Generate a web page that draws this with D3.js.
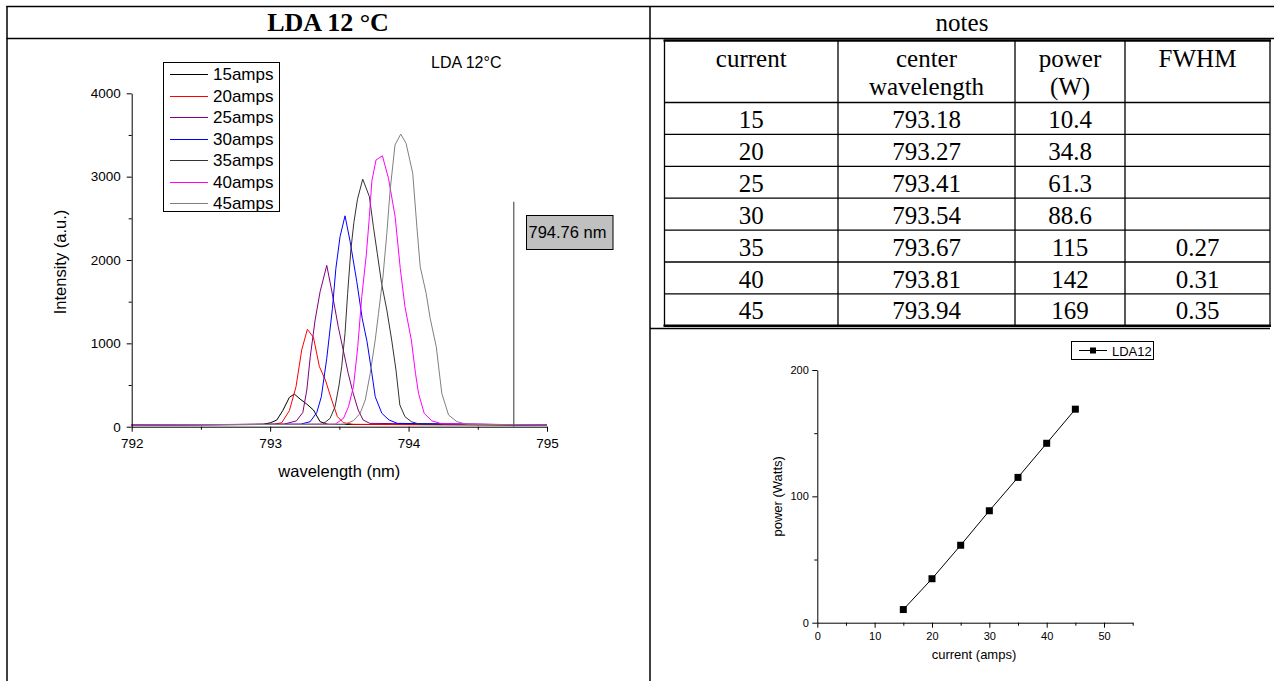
<!DOCTYPE html>
<html>
<head>
<meta charset="utf-8">
<script src="https://cdn.jsdelivr.net/npm/d3@7"></script>
<style>
body { margin: 0; background: #fff; }
svg { display: block; }
</style>
</head>
<body>
<svg id="page" width="1274" height="681"></svg>
<script>
"use strict";

// ---- data ----
var seriesNames = ["15amps", "20amps", "25amps", "30amps", "35amps", "40amps", "45amps"];

// [wavelength nm, intensity a.u.]
var amps15 = [[792, 20], [792.95, 28], [793.004, 48], [793.048, 80], [793.091, 192], [793.139, 352],
    [793.175, 392], [793.216, 332], [793.264, 272], [793.313, 200], [793.361, 60], [793.42, 28], [795, 20]];
var amps20 = [[792, 20], [793.03, 30], [793.084, 48], [793.139, 192], [793.187, 480], [793.228, 920],
    [793.269, 1168], [793.313, 1072], [793.356, 720], [793.399, 560], [793.445, 320], [793.486, 120],
    [793.529, 48], [793.6, 28], [795, 20]];
var amps25 = [[792, 20], [793.1, 30], [793.19, 70], [793.236, 170], [793.265, 440], [793.29, 840],
    [793.325, 1280], [793.361, 1620], [793.409, 1935], [793.444, 1640], [793.492, 1200], [793.528, 920],
    [793.564, 640], [793.6, 400], [793.636, 200], [793.672, 80], [793.72, 40], [795, 20]];
var amps30 = [[792, 20], [793.22, 30], [793.289, 60], [793.337, 170], [793.37, 360], [793.409, 820],
    [793.45, 1420], [793.475, 1900], [793.505, 2280], [793.541, 2530], [793.578, 2220], [793.626, 1740],
    [793.665, 1300], [793.7, 1020], [793.735, 640], [793.759, 360], [793.807, 160], [793.86, 80],
    [793.92, 40], [795, 20]];
var amps35 = [[792, 20], [793.38, 30], [793.433, 100], [793.469, 240], [793.498, 500], [793.517, 720],
    [793.541, 1120], [793.56, 1600], [793.583, 2120], [793.605, 2450], [793.631, 2730], [793.669, 2970],
    [793.717, 2760], [793.746, 2400], [793.774, 2080], [793.805, 1720], [793.843, 1400], [793.878, 1040],
    [793.909, 680], [793.937, 260], [793.974, 120], [794.02, 60], [794.08, 30], [795, 20]];
var amps40 = [[792, 20], [793.47, 30], [793.53, 100], [793.566, 240], [793.602, 480], [793.633, 960],
    [793.662, 1560], [793.694, 2050], [793.717, 2520], [793.735, 2950], [793.765, 3200], [793.811, 3250],
    [793.855, 2980], [793.903, 2520], [793.94, 1900], [793.974, 1440], [794.02, 1040], [794.05, 640],
    [794.072, 400], [794.113, 160], [794.168, 70], [794.24, 35], [795, 20]];
var amps45 = [[792, 20], [793.54, 30], [793.602, 72], [793.65, 160], [793.687, 320], [793.723, 640],
    [793.759, 1040], [793.783, 1360], [793.815, 1800], [793.843, 2320], [793.867, 2840], [793.902, 3380],
    [793.943, 3510], [793.982, 3400], [794.03, 3040], [794.06, 2400], [794.084, 1920], [794.127, 1600],
    [794.156, 1300], [794.2, 960], [794.24, 400], [794.289, 140], [794.349, 60], [794.42, 30], [795, 20]];

var spectra = [amps15, amps20, amps25, amps30, amps35, amps40, amps45];

var wavelengthTicks = [792, 793, 794, 795],
    wavelengthMinor = [792.5, 793.5, 794.5],
    intensityTicks = [0, 1000, 2000, 3000, 4000],
    intensityMinor = [500, 1500, 2500, 3500];

var markerWavelength = 794.76,
    markerTop = 2700,
    markerLabel = "794.76 nm";

// notes table
var tableHeader = [["current"], ["center", "wavelength"], ["power", "(W)"], ["FWHM"]];
var current = [15, 20, 25, 30, 35, 40, 45];
var centerWavelength = ["793.18", "793.27", "793.41", "793.54", "793.67", "793.81", "793.94"];
var powerW = [10.4, 34.8, 61.3, 88.6, 115, 142, 169];
var fwhm = ["", "", "", "", "0.27", "0.31", "0.35"];

var currentTicks = [0, 10, 20, 30, 40, 50],
    currentMinor = [5, 15, 25, 35, 45, 55],
    powerTicks = [0, 100, 200],
    powerMinor = [50, 150];

// ---- styles ----
var seriesColours = ["#000000", "#ff0000", "#800080", "#0000ff", "#333333", "#ff00ff", "#808080"],
    sans = "'Liberation Sans', Arial, sans-serif",
    serif = "'Liberation Serif', 'Times New Roman', serif";

var svg = d3.select("#page");
svg.append("rect").attr("width", 1274).attr("height", 681).attr("fill", "#fff");

var hline = function(x1, x2, y, w) {
    svg.append("line").attr("x1", x1).attr("x2", x2).attr("y1", y).attr("y2", y)
        .attr("stroke", "#000").attr("stroke-width", w);
};
var vline = function(x, y1, y2, w) {
    svg.append("line").attr("x1", x).attr("x2", x).attr("y1", y1).attr("y2", y2)
        .attr("stroke", "#000").attr("stroke-width", w);
};

// ---- outer table ----
hline(6.5, 1274, 6.5, 1.5);
hline(6.5, 1274, 38.5, 1.5);
vline(7, 6, 681, 1.5);
vline(650, 6, 681, 1.5);
hline(650, 1270, 328.5, 1.5);

svg.append("text").attr("x", 328).attr("y", 31).attr("text-anchor", "middle")
    .attr("font-family", serif).attr("font-size", 26).attr("font-weight", "bold")
    .text("LDA 12 \u00B0C");
svg.append("text").attr("x", 962).attr("y", 31).attr("text-anchor", "middle")
    .attr("font-family", serif).attr("font-size", 25)
    .text("notes");

// ---- notes table ----
var colEdges = [664.5, 838, 1015, 1125, 1270],
    headTop = 40.5,
    headBottom = 102.5,
    rowHeight = 31.9;

hline(663.5, 1271, headTop, 2.5);
colEdges.forEach(function(x) { vline(x, headTop, headBottom + rowHeight * current.length, 1.3); });
hline(664, 1270, headBottom, 1.3);
current.forEach(function(c, i) {
    if (i > 0) {
        hline(664, 1270, headBottom + rowHeight * i, 1.3);
    }
});
hline(663.5, 1271, headBottom + rowHeight * current.length, 2.5);

var colMid = function(j) { return (colEdges[j] + colEdges[j + 1]) / 2; };

tableHeader.forEach(function(lines, j) {
    lines.forEach(function(t, k) {
        svg.append("text").attr("x", colMid(j)).attr("y", 67 + k * 28)
            .attr("text-anchor", "middle").attr("font-family", serif).attr("font-size", 25)
            .text(t);
    });
});

current.forEach(function(c, i) {
    var cells = [c, centerWavelength[i], powerW[i], fwhm[i]];
    cells.forEach(function(v, j) {
        svg.append("text").attr("x", colMid(j)).attr("y", headBottom + rowHeight * i + 25.5)
            .attr("text-anchor", "middle").attr("font-family", serif).attr("font-size", 25)
            .text(v);
    });
});

// ---- spectra chart ----
var xSpec = d3.scaleLinear().domain([792, 795]).range([131.7, 547]),
    ySpec = d3.scaleLinear().domain([0, 4000]).range([426.7, 93.3]);

var styleAxis = function(g, size) {
    g.attr("font-family", sans).attr("font-size", size);
    g.selectAll("path, line").attr("stroke", "#000").attr("stroke-width", 1);
    g.selectAll("text").attr("fill", "#000");
};

svg.append("g").attr("transform", "translate(0," + ySpec(0) + ")")
    .call(d3.axisBottom(xSpec).tickValues(wavelengthMinor).tickSize(3).tickFormat(""))
    .call(function(g) { g.select(".domain").remove(); styleAxis(g, 13.5); });
svg.append("g").attr("transform", "translate(" + xSpec(792) + ",0)")
    .call(d3.axisLeft(ySpec).tickValues(intensityMinor).tickSize(3).tickFormat(""))
    .call(function(g) { g.select(".domain").remove(); styleAxis(g, 13.5); });

var line = d3.line()
    .x(function(d) { return xSpec(d[0]); })
    .y(function(d) { return ySpec(d[1]); });

svg.append("g").selectAll("path")
    .data(spectra)
    .join("path")
    .attr("d", line)
    .attr("fill", "none")
    .attr("stroke", function(d, i) { return seriesColours[i]; })
    .attr("stroke-width", 1);

svg.append("g").attr("transform", "translate(0," + ySpec(0) + ")")
    .call(d3.axisBottom(xSpec).tickValues(wavelengthTicks).tickFormat(d3.format("d"))
        .tickSize(5).tickSizeOuter(0).tickPadding(7))
    .call(function(g) { styleAxis(g, 13.5); });
svg.append("g").attr("transform", "translate(" + xSpec(792) + ",0)")
    .call(d3.axisLeft(ySpec).tickValues(intensityTicks).tickFormat(d3.format("d"))
        .tickSize(5).tickSizeOuter(0).tickPadding(6))
    .call(function(g) { styleAxis(g, 13.5); });

svg.append("text").attr("x", (xSpec.range()[0] + xSpec.range()[1]) / 2).attr("y", 477)
    .attr("text-anchor", "middle").attr("font-family", sans).attr("font-size", 16.5)
    .text("wavelength (nm)");
svg.append("text").attr("transform", "translate(66,262) rotate(-90)")
    .attr("text-anchor", "middle").attr("font-family", sans).attr("font-size", 16.5)
    .text("Intensity (a.u.)");
svg.append("text").attr("x", 431).attr("y", 68)
    .attr("font-family", sans).attr("font-size", 16)
    .text("LDA 12\u00B0C");

// marker line at 794.76 nm
svg.append("line")
    .attr("x1", xSpec(markerWavelength)).attr("x2", xSpec(markerWavelength))
    .attr("y1", ySpec(0)).attr("y2", ySpec(markerTop))
    .attr("stroke", "#555").attr("stroke-width", 1.2);
svg.append("rect").attr("x", 526.5).attr("y", 215.5).attr("width", 86.5).attr("height", 34)
    .attr("fill", "#c0c0c0").attr("stroke", "#000").attr("stroke-width", 1);
svg.append("text").attr("x", 528.5).attr("y", 238)
    .attr("font-family", sans).attr("font-size", 16.5)
    .text(markerLabel);

// legend
svg.append("rect").attr("x", 163.5).attr("y", 62.5).attr("width", 116).attr("height", 149)
    .attr("fill", "#fff").attr("stroke", "#000").attr("stroke-width", 1);
var legendRows = svg.append("g").selectAll("g")
    .data(seriesNames)
    .join("g")
    .attr("transform", function(d, i) { return "translate(0," + Math.round(74 + i * 21.5) + ")"; });
legendRows.append("line").attr("x1", 170).attr("x2", 208).attr("y1", 0.5).attr("y2", 0.5)
    .attr("stroke", function(d, i) { return seriesColours[i]; }).attr("stroke-width", 1.2);
legendRows.append("text").attr("x", 213).attr("y", 6)
    .attr("font-family", sans).attr("font-size", 17)
    .text(function(d) { return d; });

// ---- power chart ----
var xPow = d3.scaleLinear().domain([0, 55]).range([817.3, 1132.7]),
    yPow = d3.scaleLinear().domain([0, 200]).range([622.7, 370]);

svg.append("g").attr("transform", "translate(0," + yPow(0) + ")")
    .call(d3.axisBottom(xPow).tickValues(currentMinor).tickSize(3).tickFormat(""))
    .call(function(g) { g.select(".domain").remove(); styleAxis(g, 11); });
svg.append("g").attr("transform", "translate(" + xPow(0) + ",0)")
    .call(d3.axisLeft(yPow).tickValues(powerMinor).tickSize(3).tickFormat(""))
    .call(function(g) { g.select(".domain").remove(); styleAxis(g, 11); });
svg.append("g").attr("transform", "translate(0," + yPow(0) + ")")
    .call(d3.axisBottom(xPow).tickValues(currentTicks).tickFormat(d3.format("d"))
        .tickSize(5).tickSizeOuter(0).tickPadding(4.5))
    .call(function(g) { styleAxis(g, 11); });
svg.append("g").attr("transform", "translate(" + xPow(0) + ",0)")
    .call(d3.axisLeft(yPow).tickValues(powerTicks).tickFormat(d3.format("d"))
        .tickSize(5).tickSizeOuter(0).tickPadding(3.5))
    .call(function(g) { styleAxis(g, 11); });

var powerPoints = current.map(function(c, i) { return [c, powerW[i]]; });
svg.append("path")
    .datum(powerPoints)
    .attr("d", d3.line()
        .x(function(d) { return xPow(d[0]); })
        .y(function(d) { return yPow(d[1]); }))
    .attr("fill", "none").attr("stroke", "#000").attr("stroke-width", 1);
svg.append("g").selectAll("rect")
    .data(powerPoints)
    .join("rect")
    .attr("x", function(d) { return xPow(d[0]) - 3.5; })
    .attr("y", function(d) { return yPow(d[1]) - 3.5; })
    .attr("width", 7).attr("height", 7)
    .attr("fill", "#000");

svg.append("text").attr("x", (xPow.range()[0] + xPow.range()[1]) / 2 - 1).attr("y", 659)
    .attr("text-anchor", "middle").attr("font-family", sans).attr("font-size", 13)
    .text("current (amps)");
svg.append("text").attr("transform", "translate(782," + yPow(100) + ") rotate(-90)")
    .attr("text-anchor", "middle").attr("font-family", sans).attr("font-size", 13)
    .text("power (Watts)");

svg.append("rect").attr("x", 1071.5).attr("y", 341.5).attr("width", 82).attr("height", 18)
    .attr("fill", "#fff").attr("stroke", "#000").attr("stroke-width", 1);
svg.append("line").attr("x1", 1079).attr("x2", 1107).attr("y1", 350.5).attr("y2", 350.5)
    .attr("stroke", "#000").attr("stroke-width", 1);
svg.append("rect").attr("x", 1090).attr("y", 347.5).attr("width", 6).attr("height", 6).attr("fill", "#000");
svg.append("text").attr("x", 1112).attr("y", 355.5)
    .attr("font-family", sans).attr("font-size", 13)
    .text("LDA12");
</script>
</body>
</html>
